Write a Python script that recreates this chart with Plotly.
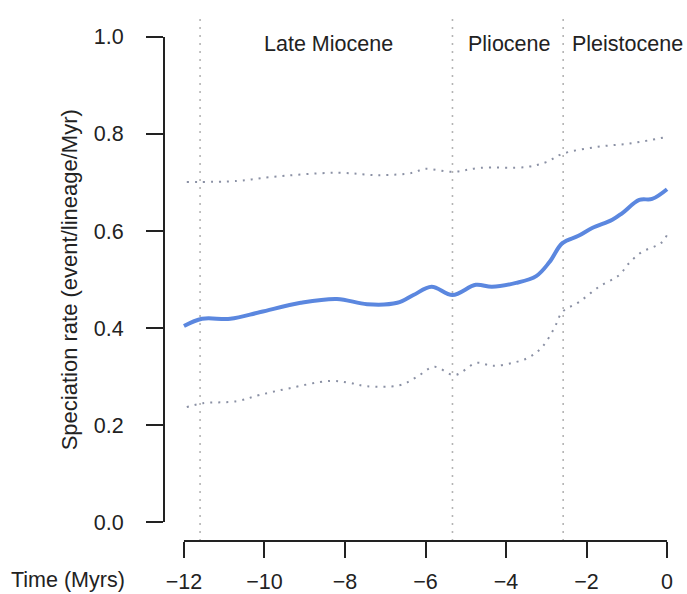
import plotly.graph_objects as go

# Main speciation rate curve
main_t = [-12.0, -11.55, -10.85, -10.1, -9.1, -8.2, -7.45, -6.7, -6.3, -5.85, -5.33,
          -4.75, -4.35, -3.75, -3.25, -2.92, -2.6, -2.2, -1.86, -1.36, -1.11, -0.69,
          -0.37, 0.0]
main_v = [0.404, 0.419, 0.419, 0.433, 0.452, 0.460, 0.449, 0.452, 0.468, 0.485, 0.468,
          0.489, 0.485, 0.493, 0.507, 0.536, 0.575, 0.590, 0.606, 0.623, 0.637, 0.664,
          0.666, 0.686]

# Upper confidence bound
upper_t = [-11.93, -10.69, -9.87, -8.21, -7.14, -6.32, -6.02, -5.33, -4.66, -3.49,
           -3.0, -2.6, -1.76, -0.87, 0.0]
upper_v = [0.701, 0.703, 0.711, 0.720, 0.715, 0.720, 0.728, 0.722, 0.730, 0.732,
           0.742, 0.759, 0.773, 0.781, 0.794]

# Lower confidence bound
lower_t = [-11.93, -11.53, -10.69, -10.12, -9.37, -8.38, -7.88, -7.46, -6.64, -6.22,
           -5.78, -5.28, -4.73, -4.34, -3.84, -3.42, -3.10, -2.80, -2.60, -2.18,
           -1.69, -1.19, -0.94, -0.62, -0.15, 0.0]
lower_v = [0.237, 0.245, 0.249, 0.262, 0.276, 0.291, 0.287, 0.280, 0.282, 0.299,
           0.320, 0.303, 0.328, 0.322, 0.328, 0.340, 0.361, 0.400, 0.433, 0.454,
           0.485, 0.509, 0.534, 0.557, 0.575, 0.592]

# Epoch boundaries and labels
boundaries = [-11.6, -5.33, -2.58]
epoch_names = ["Late Miocene", "Pliocene", "Pleistocene"]
epoch_pos = [-8.40, -3.92, -0.99]

x_ticks = [-12, -10, -8, -6, -4, -2, 0]
x_tick_labels = ["\u221212", "\u221210", "\u22128", "\u22126", "\u22124", "\u22122", "0"]
y_ticks = [0.0, 0.2, 0.4, 0.6, 0.8, 1.0]
y_tick_labels = ["0.0", "0.2", "0.4", "0.6", "0.8", "1.0"]

FONT = "Liberation Sans, Arial, Helvetica, sans-serif"
FS = 21.5
TXT = "#222222"
fig = go.Figure()

for b in boundaries:
    fig.add_shape(type="line", xref="x", yref="paper", x0=b, x1=b, y0=0, y1=1,
                  line=dict(color="#b4b4b4", width=1.6, dash="2px,6px"), layer="below")

for tt, vv in [(upper_t, upper_v), (lower_t, lower_v)]:
    fig.add_trace(go.Scatter(x=tt, y=vv, mode="lines", line_shape="spline",
                             line=dict(color="#8a90a4", width=2, dash="2px,6px"),
                             showlegend=False, hoverinfo="skip"))
fig.add_trace(go.Scatter(x=main_t, y=main_v, mode="lines", line_shape="spline",
                         line=dict(color="#5b87df", width=4),
                         showlegend=False))

# detached R-style axis lines
fig.add_shape(type="line", xref="paper", yref="y", x0=0, x1=0, y0=0, y1=1,
              line=dict(color=TXT, width=2))
fig.add_shape(type="line", xref="x", yref="paper", x0=-12, x1=0, y0=0, y1=0,
              line=dict(color=TXT, width=2))

for name, p in zip(epoch_names, epoch_pos):
    fig.add_annotation(x=p, y=0.986, xref="x", yref="y", text=name, showarrow=False,
                       font=dict(family=FONT, size=FS, color=TXT),
                       xanchor="center", yanchor="middle")

fig.add_annotation(x=-0.18, y=0.5, xref="paper", yref="paper",
                   text="Speciation rate (event/lineage/Myr)", textangle=-90,
                   showarrow=False, font=dict(family=FONT, size=22, color=TXT),
                   xanchor="center", yanchor="middle")
fig.add_annotation(x=-0.1836, y=-0.0746, xref="paper", yref="paper",
                   text="Time (Myrs)", showarrow=False,
                   font=dict(family=FONT, size=FS, color=TXT),
                   xanchor="center", yanchor="middle")

fig.update_layout(
    width=687, height=594,
    margin=dict(l=164, r=0, t=18, b=53),
    plot_bgcolor="white", paper_bgcolor="white",
    font=dict(family=FONT, size=FS, color=TXT),
    xaxis=dict(range=[-12.496, 0.496], tickvals=x_ticks, ticktext=x_tick_labels,
               ticks="outside", ticklen=16, tickwidth=2, tickcolor=TXT,
               showline=False, showgrid=False, zeroline=False,
               ticklabelstandoff=5, tickfont=dict(family=FONT, size=FS, color=TXT)),
    yaxis=dict(range=[-0.039, 1.039], tickvals=y_ticks, ticktext=y_tick_labels,
               ticks="outside", ticklen=17, tickwidth=2, tickcolor=TXT,
               showline=False, showgrid=False, zeroline=False,
               ticklabelstandoff=18, tickfont=dict(family=FONT, size=FS, color=TXT)),
)

fig.write_html("out.html")
